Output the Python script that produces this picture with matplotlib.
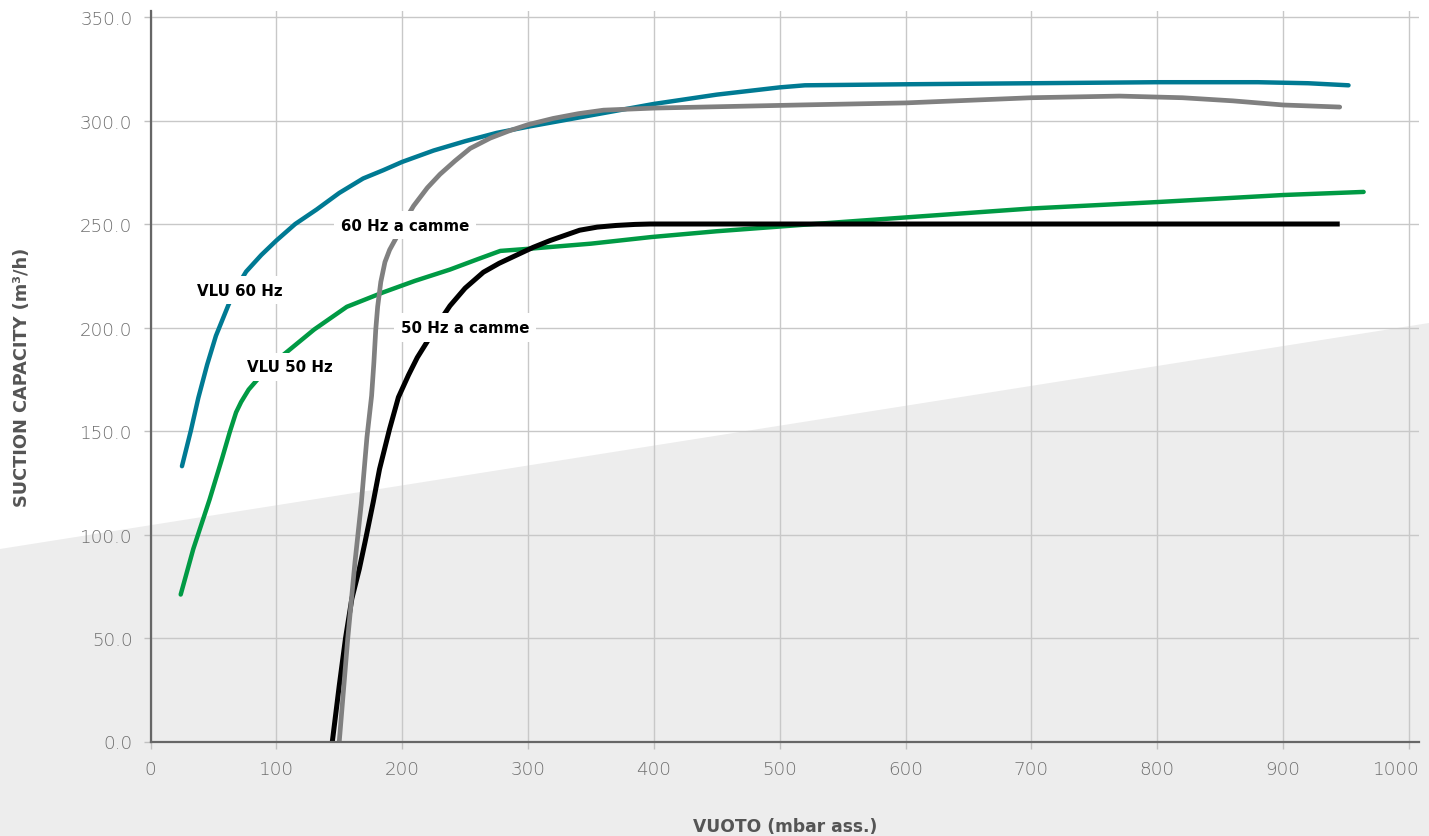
import matplotlib
matplotlib.use("Agg")
import matplotlib.pyplot as plt
import matplotlib.transforms as mtransforms
from matplotlib.patches import Polygon

# --- data ---
vlu60_x = [25, 32, 38, 45, 52, 62, 70, 76, 88, 100, 115, 132, 150, 169, 185, 200,
           225, 250, 275, 300, 350, 400, 450, 500, 520, 600, 700, 800, 880, 920, 952]
vlu60_y = [133, 150, 166, 182, 196, 211, 221, 227, 235, 242, 250, 257, 265, 272, 276, 280,
           285.5, 290, 294, 297, 302.5, 308, 312.5, 316, 317, 317.5, 318, 318.5, 318.5, 318, 317]

vlu50_x = [24, 34, 47, 57, 63, 68, 72, 78, 88, 100, 111, 130, 156, 185, 210, 238,
           260, 278, 300, 350, 398, 450, 516, 596, 700, 800, 900, 964]
vlu50_y = [71, 93, 117, 137, 149.5, 159, 164, 170, 177, 184, 189.5, 199, 210, 217, 222.5, 228,
           233, 237, 238, 240.5, 243.7, 246.5, 249.5, 253, 257.5, 260.6, 264, 265.5]

cam60_x = [150, 156.7, 162.5, 167.5, 172, 175.7, 177.5, 179, 180.5, 183, 186.3, 190, 195.6,
           203, 209, 220, 230, 242, 254, 270, 285, 300, 320, 340, 360, 400, 516, 600,
           700, 770, 820, 860, 900, 945]
cam60_y = [0, 49.5, 86.7, 115, 147, 167, 183, 199, 210, 222, 231.6, 237.5, 243.7,
           252.5, 258.7, 267.5, 274, 280.5, 286.5, 291.5, 295, 298, 301, 303.3, 305, 306, 307.5,
           308.5, 311, 311.8, 311, 309.5, 307.5, 306.5]

cam50_x = [144.5, 150, 155, 160, 165.9, 170.5, 177, 182, 190, 197, 205, 212, 219.5, 228,
           238, 250, 264.5, 277, 291, 304, 317.5, 341, 355, 370, 385, 397, 500, 700, 945]
cam50_y = [0, 27, 50, 69, 83.3, 96.4, 115.7, 131.6, 151, 166.3, 177, 185.5, 192.8, 201.5,
           210.5, 219, 226.7, 231, 235, 238.7, 242, 247, 248.5, 249.3, 249.8, 250, 250, 250, 250]

labels = ["VLU 60 Hz", "60 Hz a camme", "50 Hz a camme", "VLU 50 Hz"]
label_x = [71, 202, 250, 111]
label_y = [218, 249.5, 200, 181]

x_ticks = list(range(0, 1001, 100))
y_ticks = list(range(0, 351, 50))

W, H = 1429, 837
fig = plt.figure(figsize=(W / 100, H / 100), dpi=100)
fig.patch.set_facecolor("white")

# light grey diagonal band in the lower part of the picture
fig.patches.append(Polygon([(0, 0), (1, 0), (1, (H - 324) / H), (0, (H - 550) / H)],
                           closed=True, transform=fig.transFigure,
                           facecolor="#ededed", edgecolor="none", zorder=0))

ax = fig.add_axes([150.5 / W, (H - 742.5) / H, (1419 - 150.5) / W, (742.5 - 12) / H])
ax.set_zorder(2)
ax.patch.set_visible(False)

ax.plot(vlu50_x, vlu50_y, color="#009a44", lw=3.2, solid_capstyle="round", zorder=3)
ax.plot(cam50_x, cam50_y, color="#000000", lw=3.6, solid_capstyle="butt", zorder=3)
ax.plot(vlu60_x, vlu60_y, color="#007a93", lw=3.2, solid_capstyle="round", zorder=3)
ax.plot(cam60_x, cam60_y, color="#808080", lw=3.4, solid_capstyle="round", zorder=3)

for t, x, y in zip(labels, label_x, label_y):
    ax.text(x, y, t, ha="center", va="center", fontsize=10.8, fontweight="bold",
            family="DejaVu Sans", color="black", zorder=5,
            bbox=dict(boxstyle="square,pad=0.45", facecolor="white", edgecolor="none"))

ax.set_xlim(0, 1008)
ax.set_ylim(0, 352.9)
ax.set_xticks(x_ticks)
ax.set_xticklabels([str(v) for v in x_ticks])
ax.set_yticks(y_ticks)
ax.set_yticklabels([f"{v:.1f}" for v in y_ticks])

ax.grid(True, color="#c8c8c8", lw=1)
ax.set_axisbelow(True)
for s in ["top", "right"]:
    ax.spines[s].set_visible(False)
for s in ["left", "bottom"]:
    ax.spines[s].set_color("#666666")
    ax.spines[s].set_linewidth(1.6)
    ax.spines[s].set_zorder(4)

ax.tick_params(direction="out", length=5, width=1, color="#c0c0c0",
               labelcolor="#6e6e6e", labelsize=13.2, pad=8)
for lab in ax.get_xticklabels() + ax.get_yticklabels():
    lab.set_family("DejaVu Sans")
    lab.set_fontweight("light")

# last x label sits a bit left of its tick so it stays inside the picture
last = ax.get_xticklabels()[-1]
last.set_transform(last.get_transform() +
                   mtransforms.ScaledTranslation(-0.13, 0, fig.dpi_scale_trans))

ax.set_xlabel("VUOTO (mbar ass.)", fontsize=12.3, fontweight="bold",
              family="DejaVu Sans", color="#555555")
ax.xaxis.set_label_coords(0.5, (742.5 - 827) / 730.5)
ax.xaxis.label.set_va("center")
ax.set_ylabel("SUCTION CAPACITY (m³/h)", fontsize=12.8, fontweight="bold",
              family="DejaVu Sans", color="#555555")
ax.yaxis.set_label_coords((22 - 150.5) / 1268.5, 0.5)
ax.yaxis.label.set_va("center")

fig.savefig("out.png", dpi=100)
